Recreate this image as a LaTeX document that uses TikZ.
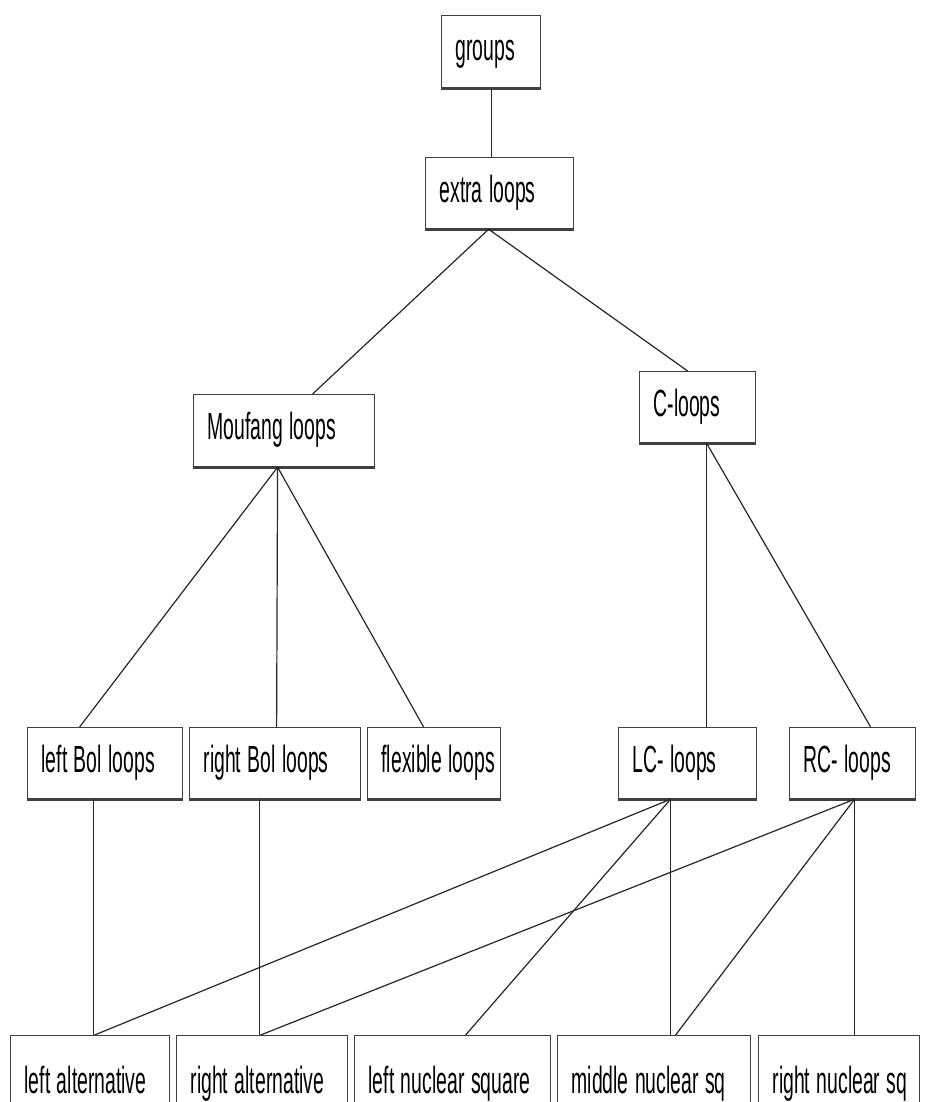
\documentclass[tikz,border=0pt]{standalone}
\usepackage{fontspec}
\setmainfont{Liberation Sans}
\usepackage{graphicx}
\usetikzlibrary{calc}

\newcommand{\tall}[1]{\scalebox{1}[1.95]{#1}}

\tikzset{
 box/.style={draw=black!75, line width=1.2pt, fill=white, inner xsep=14pt, inner ysep=0pt,
  align=left, anchor=north west, text height=25pt, text depth=7pt,
  font=\fontsize{19.4}{20}\selectfont},
 link/.style={black!85, line width=1.2pt},
}

\begin{document}
\begin{tikzpicture}[x=1pt,y=-1pt]
\fill[white] (0,0) rectangle (924,1102);
\useasboundingbox (0,0) rectangle (924,1102);
\clip (0,0) rectangle (924,1102);
% top of the tree
\node[box, text width=71pt, minimum height=72pt] (groups) at (441,15) {\tall{groups}};
\node[box, text width=120pt, minimum height=71pt] (extra) at (425,157) {\tall{extra loops}};
\node[box, text width=153pt, minimum height=72pt] (mouf) at (193,394) {\tall{Moufang loops}};
\node[box, text width=88pt, minimum height=71pt] (cloops) at (639,371) {\tall{C-loops}};
% middle row
\node[box, text width=127pt, minimum height=71pt] (lbol) at (27,727) {\tall{left Bol loops}};
\node[box, text width=143pt, minimum height=71pt] (rbol) at (189,727) {\tall{right Bol loops}};
\node[box, text width=105pt, minimum height=71pt] (flex) at (367,727) {\tall{flexible loops}};
\node[box, text width=110pt, minimum height=71pt] (lc) at (618,727) {\tall{LC- loops}};
\node[box, text width=98pt, minimum height=71pt] (rc) at (789,727) {\tall{RC- loops}};
% bottom row
\node[box, text width=131pt, minimum height=98pt] (lalt) at (10,1035) {\tall{left alternative}};
\node[box, text width=143pt, minimum height=98pt] (ralt) at (176,1035) {\tall{right alternative}};
\node[box, text width=168pt, minimum height=98pt] (lnuc) at (354,1035) {\tall{left nuclear square}};
\node[box, text width=165pt, minimum height=98pt] (mnuc) at (557,1035) {\tall{middle nuclear sq}};
\node[box, text width=133pt, minimum height=98pt] (rnuc) at (758,1035) {\tall{right nuclear sq}};
\foreach \n in {groups,extra,mouf,cloops,lbol,rbol,flex,lc,rc}
 \draw[line width=2.4pt, black!75] ([yshift=-0.6pt]\n.south west) -- ([yshift=-0.6pt]\n.south east);
% connectors
\draw[link] (groups.south) -- (groups.south |- extra.north);
\draw[link] ([xshift=-11pt]extra.south) -- ([xshift=28.5pt]mouf.north);
\draw[link] ([xshift=-11pt]extra.south) -- ([xshift=-10pt]cloops.north);
\draw[link] ([xshift=-6.5pt]mouf.south) -- ([xshift=-25.5pt]lbol.north);
\draw[link] ([xshift=-6.5pt]mouf.south) -- ([xshift=1.5pt]rbol.north);
\draw[link] ([xshift=-6.5pt]mouf.south) -- ([xshift=-10.5pt]flex.north);
\draw[link] ([xshift=9pt]cloops.south) -- ([xshift=9pt]cloops.south |- lc.north);
\draw[link] ([xshift=9pt]cloops.south) -- ([xshift=18pt]rc.north);
\draw[link] ([xshift=-11.5pt]lbol.south) -- ([xshift=-11.5pt]lbol.south |- lalt.north);
\draw[link] ([xshift=-15.5pt]rbol.south) -- ([xshift=-15.5pt]rbol.south |- ralt.north);
\draw[link] ([xshift=-17pt]lc.south) -- ([xshift=4.5pt]lalt.north);
\draw[link] ([xshift=-17pt]lc.south) -- ([xshift=13pt]lnuc.north);
\draw[link] ([xshift=-17pt]lc.south) -- ([xshift=-17pt]lc.south |- mnuc.north);
\draw[link] ([xshift=2pt]rc.south) -- ([xshift=-1.5pt]ralt.north);
\draw[link] ([xshift=2pt]rc.south) -- ([xshift=21.5pt]mnuc.north);
\draw[link] ([xshift=2pt]rc.south) -- ([xshift=2pt]rc.south |- rnuc.north);
\end{tikzpicture}
\end{document}
